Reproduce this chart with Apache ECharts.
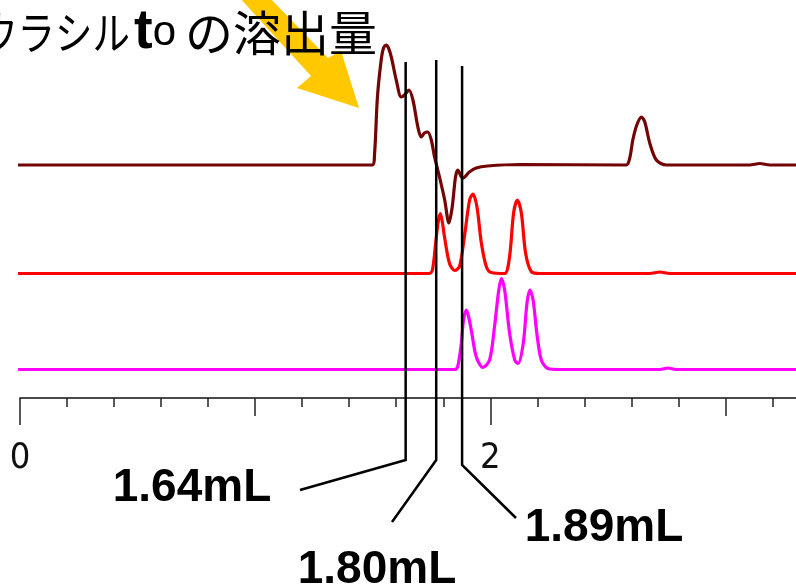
<!DOCTYPE html>
<html><head><meta charset="utf-8">
<script src="https://cdn.jsdelivr.net/npm/echarts@6/dist/echarts.min.js"></script>
<style>html,body{margin:0;padding:0;background:#fff}#c{width:796px;height:588px}</style>
</head><body><div id="c"></div>
<script>
// ---- data (elution volume in mL, detector signal in arbitrary units) ----
const xTickLabels = ['0', '2'];
const brownVol = [-0.016, 0.5, 1.0, 1.498, 1.508, 1.520, 1.536, 1.546, 1.557, 1.567, 1.579, 1.600, 1.621, 1.635, 1.654, 1.671, 1.692, 1.706, 1.720, 1.734, 1.749, 1.763, 1.784, 1.806, 1.824, 1.838, 1.852, 1.862, 1.877, 1.883, 1.911, 1.940, 1.988, 2.125, 2.578, 2.593, 2.606, 2.623, 2.643, 2.657, 2.678, 2.706, 2.749, 3.103, 3.146, 3.189, 3.30];
const brownSig = [0, 0, 0, 0, 12, 68, 105, 117, 120, 117, 108, 85, 68, 70, 75, 65, 38, 28, 32, 33, 25, 8, -12, -35, -58, -42, -12, -5, -12, -13, -7, -3, -1, 0.5, 0, 7, 25, 40, 48, 43, 22, 5, 0, 0, 1.5, 0, 0];
const redVol = [-0.016, 0.5, 1.0, 1.5, 1.740, 1.754, 1.769, 1.778, 1.787, 1.795, 1.805, 1.826, 1.848, 1.869, 1.890, 1.912, 1.926, 1.943, 1.962, 1.983, 2.004, 2.061, 2.082, 2.099, 2.115, 2.132, 2.150, 2.174, 2.210, 2.678, 2.721, 2.763, 3.30];
const redSig = [0, 0, 0, 0, 0, 3.5, 33.5, 51, 60, 53, 37, 10.5, 3, 7, 37, 73.5, 79.5, 67, 30.5, 7, 1, 0, 17, 60.5, 73.5, 60.5, 20.5, 2, 0, 0, 1.5, 0, 0];
const magVol = [-0.016, 0.5, 1.0, 1.5, 1.848, 1.861, 1.877, 1.886, 1.898, 1.907, 1.919, 1.940, 1.968, 1.997, 2.018, 2.036, 2.047, 2.061, 2.082, 2.104, 2.118, 2.140, 2.156, 2.168, 2.182, 2.198, 2.217, 2.245, 2.294, 2.721, 2.755, 2.789, 3.30];
const magSig = [0, 0, 0, 0, 0, 2.5, 26.5, 49.5, 59.5, 53.5, 39.5, 13, 2, 9.5, 43, 79.5, 91, 79.5, 36.5, 9.5, 6, 26, 66.5, 79.5, 69.5, 36, 9.5, 1, 0, 0, 1.5, 0, 0];
const markerVol = [1.64, 1.77, 1.88];
const markerLabels = ['1.64mL', '1.80mL', '1.89mL'];
const titleParts = ['ウラシル', 't', 'o', 'の溶出量'];

// trace offsets (vertical stacking of chromatograms)
const OFF_BROWN = 233, OFF_RED = 124.5, OFF_MAG = 28.5;
const toPairs = (xs, ys, off) => xs.map((x, i) => [x, off + ys[i]]);

const chart = echarts.init(document.getElementById('c'), null, {renderer: 'canvas'});
const tickFont = "'Liberation Sans Narrow','DejaVu Sans Condensed','Liberation Sans',sans-serif";
const baseX = {type: 'value', gridIndex: 0, position: 'bottom', min: 0, max: 4,
  splitLine: {show: false}, axisLine: {show: false}, axisLabel: {show: false}};
const option = {
  animation: false,
  backgroundColor: '#fff',
  grid: {left: 20, top: 0, width: (796 - 20) / 3.3 * 4, height: 398, containLabel: false, outerBoundsMode: 'none'},
  xAxis: [
    Object.assign({}, baseX, {interval: 0.2, axisLine: {show: true, onZero: false, lineStyle: {color: '#111', width: 1.5}},
      axisTick: {show: true, length: 9, lineStyle: {color: '#222', width: 1.5}}}),
    Object.assign({}, baseX, {interval: 1, axisTick: {show: true, length: 18, lineStyle: {color: '#222', width: 1.5}}}),
    Object.assign({}, baseX, {interval: 2, axisTick: {show: true, length: 27, lineStyle: {color: '#222', width: 1.5}},
      axisLabel: {show: true, margin: 43, fontSize: 36, fontFamily: tickFont, color: '#111',
        formatter: v => { const s = String(v); return xTickLabels.indexOf(s) >= 0 ? s : ''; }}})
  ],
  yAxis: {type: 'value', min: 0, max: 398, show: false},
  series: [
    {type: 'line', name: 'brown', data: toPairs(brownVol, brownSig, OFF_BROWN), showSymbol: false, smooth: 0.3, clip: false,
      lineStyle: {color: '#730505', width: 3.2}, z: 3},
    {type: 'line', name: 'red', data: toPairs(redVol, redSig, OFF_RED), showSymbol: false, smooth: 0.3, clip: false,
      lineStyle: {color: '#ff0000', width: 3.2}, z: 2},
    {type: 'line', name: 'magenta', data: toPairs(magVol, magSig, OFF_MAG), showSymbol: false, smooth: 0.3, clip: false,
      lineStyle: {color: '#ff00ff', width: 3.2}, z: 2}
  ]
};
chart.setOption(option);

// annotations
const px = markerVol.map(v => chart.convertToPixel({xAxisIndex: 0}, v));
const lineTop = [62, 60, 66];
const bend = [460, 460, 465];
const ends = [[300, 490], [392, 522], [516, 518]];
const labelPos = [[192, 488], [377, 570], [604, 528]];
const boldFont = "'Liberation Sans','Arial',sans-serif";
const graphics = [];
graphics.push({type: 'polygon', z: 1, shape: {points: [[238, -4], [311, 76], [297, 88], [359, 108], [341, 51], [328, 58], [268, -4]]},
  style: {fill: '#ffc800'}});
for (let i = 0; i < 3; i++) {
  graphics.push({type: 'polyline', z: 10, shape: {points: [[px[i], lineTop[i]], [px[i], bend[i]], ends[i]]},
    style: {stroke: '#000', lineWidth: 2.5, fill: null}});
  graphics.push({type: 'text', z: 10, x: labelPos[i][0], y: labelPos[i][1],
    style: {text: markerLabels[i], font: 'bold 46px ' + boldFont, fill: '#000', align: 'center', verticalAlign: 'middle'}});
}
// title text
graphics.push({type: 'text', z: 10, x: -20, y: 33, scaleX: 0.833,
  style: {text: titleParts[0], font: "45px 'Noto Sans CJK JP'", fill: '#000', align: 'left', verticalAlign: 'middle'}});
graphics.push({type: 'text', z: 10, x: 134, y: 33,
  style: {text: '{t|' + titleParts[1] + '}{o|' + titleParts[2] + '}', fill: '#000', align: 'left', verticalAlign: 'middle',
    rich: {t: {fontSize: 56, fontWeight: 'bold', fontFamily: boldFont, verticalAlign: 'bottom'},
           o: {fontSize: 42, fontFamily: boldFont, fontWeight: 'normal'}}}});
graphics.push({type: 'text', z: 10, x: 377, y: 33,
  style: {text: titleParts[3], font: "48px 'Noto Sans CJK JP'", fill: '#000', align: 'right', verticalAlign: 'middle'}});
chart.setOption({graphic: graphics});
</script>
</body></html>
